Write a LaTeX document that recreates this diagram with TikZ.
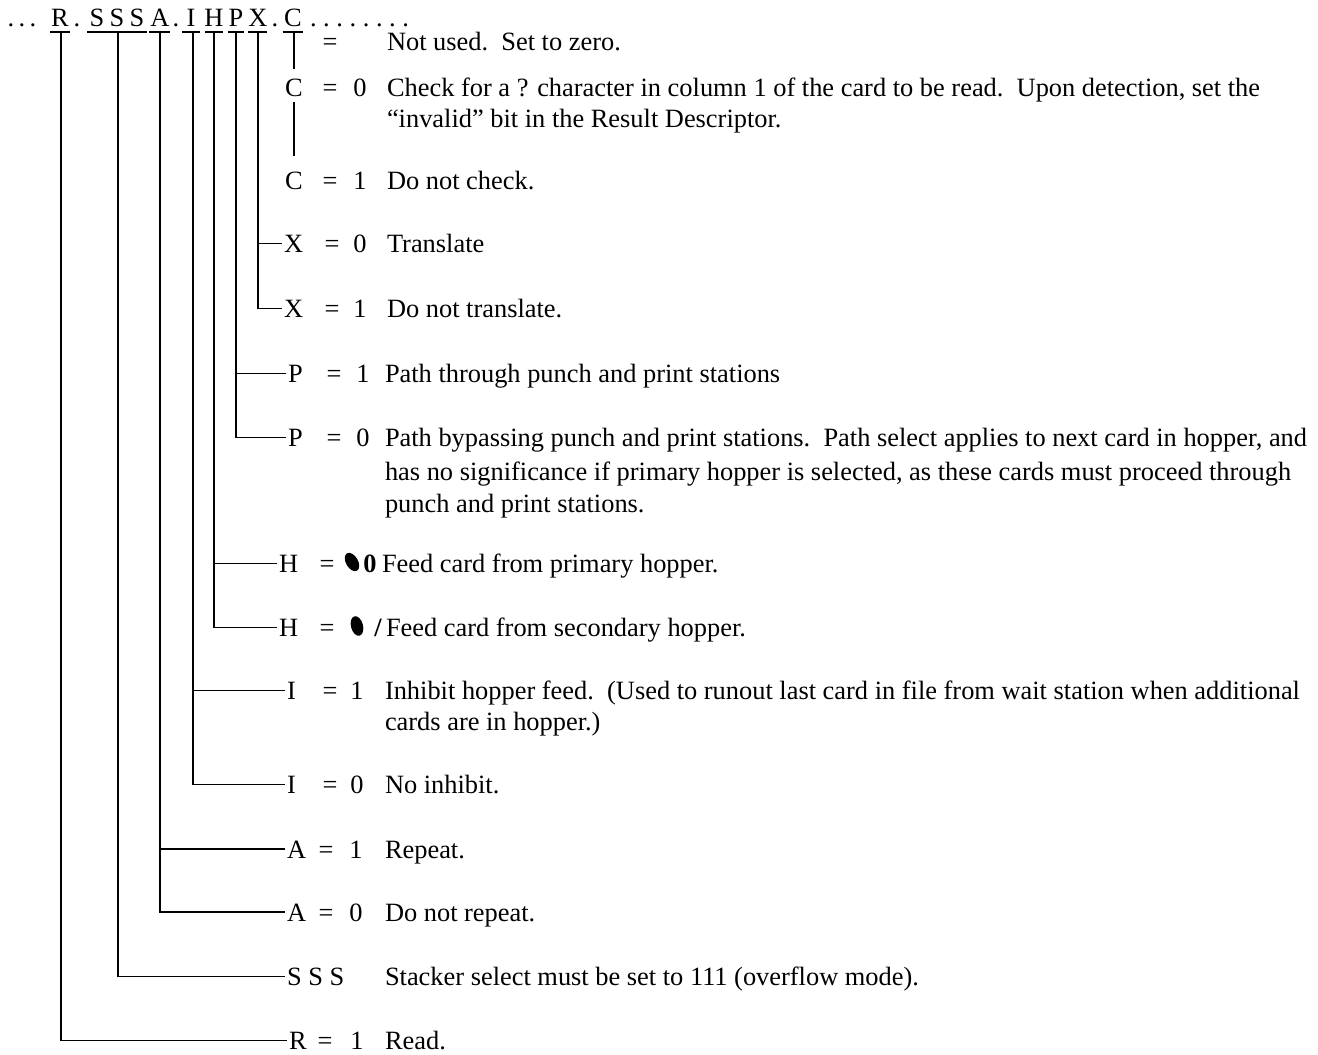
\documentclass[tikz,border=0pt]{standalone}
\usepackage{fontspec}
\setmainfont{Liberation Serif}
\begin{document}
\begin{tikzpicture}[x=0.5pt,y=-0.5pt,
  font=\fontsize{13.2}{16.5}\selectfont,
  every node/.style={inner sep=0pt, outer sep=0pt},
  conn/.style={line width=0.8pt},
  uline/.style={line width=0.8pt},
  hdr/.style={anchor=base},
  lbl/.style={anchor=base west, inner xsep=1pt},
  eqs/.style={anchor=base},
  val/.style={anchor=base},
  desc/.style={anchor=base west},
  blob/.style={fill=black}]
\useasboundingbox (0,0) rectangle (1318,1055);

% ---------- header ----------
\node[hdr] (hd1) at (22,26) {.\,.\,.};
\node[hdr] (hR) at (60,26) {R};
\node[hdr] (hd2) at (77,26) {.};
\node[hdr] (hS1) at (97,26) {S};
\node[hdr] (hS2) at (117,26) {S};
\node[hdr] (hS3) at (137,26) {S};
\node[hdr] (hA) at (160,26) {A};
\node[hdr] (hd3) at (176,26) {.};
\node[hdr] (hI) at (191,26) {I};
\node[hdr] (hH) at (214,26) {H};
\node[hdr] (hP) at (236,26) {P};
\node[hdr] (hX) at (258,26) {X};
\node[hdr] (hd4) at (275,26) {.};
\node[hdr] (hC) at (293,26) {C};
\node[hdr,anchor=base west] (hd5) at (310,26) {.\ .\ .\ .\ .\ .\ .\ .};

\draw[uline] (50,32) -- (70,32);
\draw[uline] (87,32) -- (147,32);
\draw[uline] (149,32) -- (170,32);
\draw[uline] (182,32) -- (200,32);
\draw[uline] (205,32) -- (223,32);
\draw[uline] (228,32) -- (244,32);
\draw[uline] (248,32) -- (267,32);
\draw[uline] (283,32) -- (303,32);

\coordinate (uR) at (61,32);
\coordinate (uS) at (118,32);
\coordinate (uA) at (160,32);
\coordinate (uI) at (193,32);
\coordinate (uH) at (214,32);
\coordinate (uP) at (236,32);
\coordinate (uX) at (258,32);
\coordinate (uC) at (294,32);

% ---------- rows ----------
% row 0: not used
\node[eqs] (e0) at (330,50) {=};
\node[desc] (d0) at (387,50) {Not used.\ \ Set to zero.};

% C = 0
\node[hdr] (lC0) at (294,96) {C};
\node[eqs] at (330,96) {=};
\node[val] at (360,96) {0};
\node[desc] (dC0a) at (387,96) {Check for a ? character in column 1 of the card to be read.\ \ Upon detection, set the};
\node[desc] (dC0b) at (387,127) {``invalid'' bit in the Result Descriptor.};

% C = 1
\node[hdr] (lC1) at (294,189) {C};
\node[eqs] at (330,189) {=};
\node[val] at (360,189) {1};
\node[desc] at (387,189) {Do not check.};

% X
\node[lbl] (lX0) at (282,252) {X};
\node[eqs] at (332,252) {=};
\node[val] at (360,252) {0};
\node[desc] at (387,252) {Translate};

\node[lbl] (lX1) at (282,317) {X};
\node[eqs] at (332,317) {=};
\node[val] at (360,317) {1};
\node[desc] at (387,317) {Do not translate.};

% P
\node[lbl] (lP1) at (286,382) {P};
\node[eqs] at (334,382) {=};
\node[val] at (363,382) {1};
\node[desc] at (385,382) {Path through punch and print stations};

\node[lbl] (lP0) at (286,446) {P};
\node[eqs] at (334,446) {=};
\node[val] at (363,446) {0};
\node[desc] at (385,446) {Path bypassing punch and print stations.\ \ Path select applies to next card in hopper, and};
\node[desc] at (385,480) {has no significance if primary hopper is selected, as these cards must proceed through};
\node[desc] at (385,512) {punch and print stations.};

% H
\node[lbl] (lH0) at (277,572) {H};
\node[eqs] at (327,572) {=};
\fill[blob, rotate around={30:(352,562)}] (352,562) ellipse (6 and 10);
\node[val] at (370,572) {\bfseries 0};
\node[desc] at (382,572) {Feed card from primary hopper.};

\node[lbl] (lH1) at (277,636) {H};
\node[eqs] at (327,636) {=};
\fill[blob, rotate around={15:(357,626)}] (357,626) ellipse (6 and 10);
\node[val] at (378,636) {\bfseries /};
\node[desc] at (386,636) {Feed card from secondary hopper.};

% I
\node[lbl] (lI1) at (285,699) {I};
\node[eqs] at (330,699) {=};
\node[val] at (357,699) {1};
\node[desc] at (385,699) {Inhibit hopper feed.\ \ (Used to runout last card in file from wait station when additional};
\node[desc] at (385,730) {cards are in hopper.)};

\node[lbl] (lI0) at (285,793) {I};
\node[eqs] at (330,793) {=};
\node[val] at (357,793) {0};
\node[desc] at (385,793) {No inhibit.};

% A
\node[lbl] (lA1) at (285,858) {A};
\node[eqs] at (326,858) {=};
\node[val] at (356,858) {1};
\node[desc] at (385,858) {Repeat.};

\node[lbl] (lA0) at (285,921) {A};
\node[eqs] at (326,921) {=};
\node[val] at (356,921) {0};
\node[desc] at (385,921) {Do not repeat.};

% SSS
\node[lbl] (lS) at (285,985) {S S S};
\node[desc] at (385,985) {Stacker select must be set to 111 (overflow mode).};

% R
\node[lbl] (lR) at (287,1049) {R};
\node[eqs] at (325,1049) {=};
\node[val] at (357,1049) {1};
\node[desc] at (385,1049) {Read.};

% ---------- connectors ----------
\draw[conn] (uC) -- ([yshift=5pt]lC0.north);
\draw[conn] ([yshift=-3pt]lC0.south) -- ([yshift=8pt]lC1.north);
\draw[conn] (uX) |- (lX1.west);
\draw[conn] (lX0.west) -- (lX0.west -| uX);
\draw[conn] (uP) |- (lP0.west);
\draw[conn] (lP1.west) -- (lP1.west -| uP);
\draw[conn] (uH) |- (lH1.west);
\draw[conn] (lH0.west) -- (lH0.west -| uH);
\draw[conn] (uI) |- (lI0.west);
\draw[conn] (lI1.west) -- (lI1.west -| uI);
\draw[conn] (uA) |- (lA0.west);
\draw[conn] (lA1.west) -- (lA1.west -| uA);
\draw[conn] (uS) |- (lS.west);
\draw[conn] (uR) |- (lR.west);
\end{tikzpicture}
\end{document}
